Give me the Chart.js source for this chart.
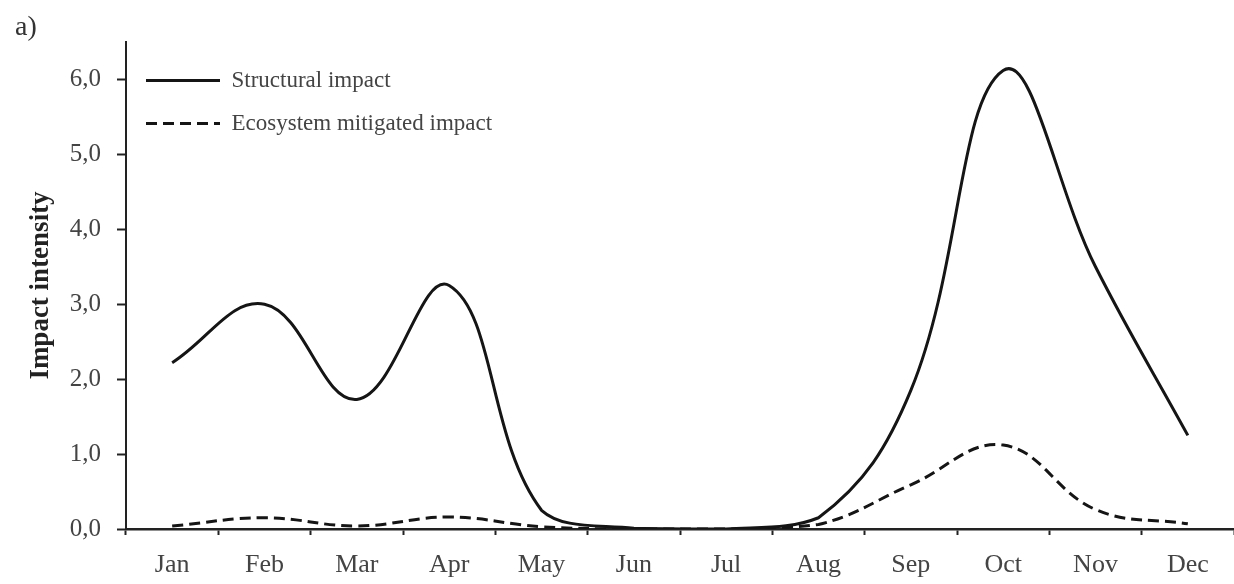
<!DOCTYPE html>
<html>
<head>
<meta charset="utf-8">
<title>Impact intensity by month</title>
<script src="https://cdn.jsdelivr.net/npm/chart.js@4.4.1/dist/chart.umd.min.js"></script>
<style>
  html, body { margin: 0; padding: 0; background: #ffffff; }
  #wrap { width: 1234px; height: 584px; }
</style>
</head>
<body>
<div id="wrap"><canvas id="chart" width="1234" height="584"></canvas></div>
<script>
// Monthly categories
const months = ['Jan', 'Feb', 'Mar', 'Apr', 'May', 'Jun', 'Jul', 'Aug', 'Sep', 'Oct', 'Nov', 'Dec'];

// Impact intensity per month
const structuralImpact = [2.22, 3.00, 1.73, 3.25, 0.25, 0.01, 0.00, 0.15, 1.85, 6.12, 3.50, 1.25];
const mitigatedImpact  = [0.04, 0.15, 0.04, 0.16, 0.03, 0.00, 0.00, 0.06, 0.59, 1.12, 0.26, 0.07];

// Series names and text
const seriesNames = ['Structural impact', 'Ecosystem mitigated impact'];
const yAxisTitle = 'Impact intensity';
const panelTag = 'a)';
const yTickValues = [0, 1, 2, 3, 4, 5, 6];

const SERIF = '"Liberation Serif", "Times New Roman", Times, serif';
const INK = '#151515';

// Panel letter in the top-left corner
const panelTagPlugin = {
  id: 'panelTag',
  afterDraw(chart) {
    const ctx = chart.ctx;
    ctx.save();
    ctx.font = '28px ' + SERIF;
    ctx.fillStyle = '#333';
    ctx.textBaseline = 'alphabetic';
    ctx.textAlign = 'left';
    ctx.fillText(panelTag, 15, 35);
    ctx.restore();
  }
};

new Chart(document.getElementById('chart'), {
  type: 'line',
  data: {
    labels: months,
    datasets: [
      {
        label: seriesNames[0],
        data: structuralImpact,
        borderColor: INK,
        backgroundColor: INK,
        borderWidth: 3,
        pointRadius: 0,
        pointHoverRadius: 0,
        tension: 0.4,
        fill: false
      },
      {
        label: seriesNames[1],
        data: mitigatedImpact,
        borderColor: INK,
        backgroundColor: INK,
        borderWidth: 3,
        borderDash: [11, 6],
        pointRadius: 0,
        pointHoverRadius: 0,
        tension: 0.4,
        fill: false
      }
    ]
  },
  options: {
    responsive: false,
    animation: false,
    devicePixelRatio: 1,
    layout: { padding: { top: 42, left: 0, right: 0, bottom: 0 } },
    plugins: {
      tooltip: { enabled: false },
      title: { display: false },
      legend: {
        position: 'chartArea',
        align: 'start',
        title: {
          display: true,
          text: ' ',
          font: { size: 8, lineHeight: 1.0 },
          padding: { top: 20, bottom: 21 }
        },
        labels: {
          usePointStyle: true,
          pointStyle: 'line',
          pointStyleWidth: 74,
          padding: 20,
          color: '#444',
          font: { family: SERIF, size: 23, lineHeight: 1.0 },
          generateLabels(chart) {
            const items = Chart.defaults.plugins.legend.labels.generateLabels(chart);
            items.forEach((item, i) => {
              const ds = chart.data.datasets[item.datasetIndex ?? i];
              item.lineDash = ds.borderDash || [];
              item.lineWidth = ds.borderWidth;
              item.strokeStyle = ds.borderColor;
            });
            return items;
          }
        }
      }
    },
    scales: {
      x: {
        type: 'category',
        offset: true,
        afterFit(scale) { scale.height = 55; },
        grid: {
          offset: true,
          display: true,
          drawOnChartArea: false,
          drawTicks: true,
          tickLength: 6,
          tickWidth: 2,
          tickColor: '#222'
        },
        border: { display: true, color: '#222', width: 2.5 },
        ticks: {
          autoSkip: false,
          maxRotation: 0,
          minRotation: 0,
          padding: 15,
          color: '#444',
          font: { family: SERIF, size: 26 }
        }
      },
      y: {
        type: 'linear',
        min: 0,
        max: 6.5,
        afterFit(scale) { scale.width = 126; },
        afterBuildTicks(scale) {
          scale.ticks = yTickValues.map(v => ({ value: v }));
        },
        grid: {
          display: true,
          drawOnChartArea: false,
          drawTicks: true,
          tickLength: 9,
          tickWidth: 2,
          tickColor: '#222'
        },
        border: { display: true, color: '#222', width: 2 },
        ticks: {
          padding: 16,
          color: '#444',
          font: { family: SERIF, size: 25 },
          callback(value) { return Number(value).toFixed(1).replace('.', ','); }
        },
        title: {
          display: true,
          text: yAxisTitle,
          color: '#222',
          font: { family: SERIF, size: 27, weight: 'bold' },
          padding: { top: 25, bottom: 0 }
        }
      }
    }
  },
  plugins: [panelTagPlugin]
});
</script>
</body>
</html>
